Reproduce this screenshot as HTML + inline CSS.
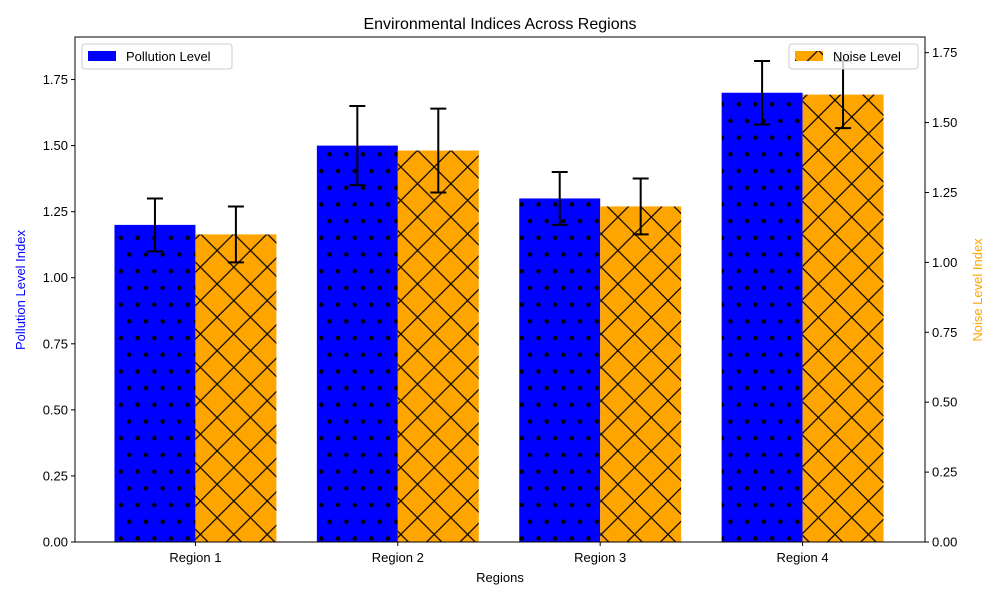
<!DOCTYPE html>
<html><head><meta charset="utf-8"><style>
body{margin:0;background:#fff}
svg{font-family:"Liberation Sans","DejaVu Sans",sans-serif;display:block}
</style></head><body>
<svg id="chart" width="1000" height="600" viewBox="0 0 1000 600">
<defs>
<pattern id="dots" patternUnits="userSpaceOnUse" width="16.7" height="33.4" x="0" y="0">
<rect width="16.7" height="33.4" fill="blue"/>
<circle cx="4" cy="4" r="2.2" fill="#000"/>
<circle cx="12.3" cy="20.7" r="2.2" fill="#000"/>
</pattern>
<pattern id="cross" patternUnits="userSpaceOnUse" width="33.4" height="33.4">
<rect width="33.4" height="33.4" fill="orange"/>
<path d="M0 0L33.4 33.4M33.4 0L0 33.4" stroke="#000" stroke-width="1.2"/>
</pattern>
</defs>
<text x="500" y="29" text-anchor="middle" font-size="16">Environmental Indices Across Regions</text>
<g id="bars"></g>
<g id="axes"></g>
</svg>
<script>
const categories=["Region 1","Region 2","Region 3","Region 4"];
const pollution=[1.2,1.5,1.3,1.7];
const pollutionErr=[0.1,0.15,0.1,0.12];
const noise=[1.1,1.4,1.2,1.6];
const noiseErr=[0.1,0.15,0.1,0.12];
const leftTicks=[0,0.25,0.5,0.75,1.0,1.25,1.5,1.75];
const rightTicks=[0,0.25,0.5,0.75,1.0,1.25,1.5,1.75];

const L=75,R=925,T=37,B=542;
const NS="http://www.w3.org/2000/svg";
const svg=document.getElementById('chart');
const gb=document.getElementById('bars'), ga=document.getElementById('axes');
function mk(tag,attrs,parent){const e=document.createElementNS(NS,tag);for(const k in attrs)e.setAttribute(k,attrs[k]);(parent||svg).appendChild(e);return e;}
const lMax=Math.max(...pollution.map((v,i)=>v+pollutionErr[i]))*1.05;
const rMax=Math.max(...noise.map((v,i)=>v+noiseErr[i]))*1.05;
const yL=v=>B-v/lMax*(B-T);
const yR=v=>B-v/rMax*(B-T);
const n=categories.length;
const xS=i=>L-1+(i+0.6)/(n-1+1.2)*(R-L);
const bw=0.4*(R-L)/(n-1+1.2);

function errBar(x,y1,y2,name){
  const g=mk('g',{},gb);
  
  
  mk('line',{x1:x,x2:x,y1:y1,y2:y2,stroke:'#000','stroke-width':2},g);
  mk('line',{x1:x-8,x2:x+8,y1:y1,y2:y1,stroke:'#000','stroke-width':2},g);
  mk('line',{x1:x-8,x2:x+8,y1:y2,y2:y2,stroke:'#000','stroke-width':2},g);
}
categories.forEach((c,i)=>{
  const cx=xS(i);
  const r1=mk('rect',{x:cx-bw,y:yL(pollution[i]),width:bw,height:B-yL(pollution[i]),fill:'url(#dots)'},gb);
  
  
  const r2=mk('rect',{x:cx,y:yR(noise[i]),width:bw,height:B-yR(noise[i]),fill:'url(#cross)'},gb);
  
  
  errBar(cx-bw/2,yL(pollution[i]+pollutionErr[i]),yL(pollution[i]-pollutionErr[i]),'pollution-error-'+(i+1));
  errBar(cx+bw/2,yR(noise[i]+noiseErr[i]),yR(noise[i]-noiseErr[i]),'noise-error-'+(i+1));
  mk('line',{x1:cx,x2:cx,y1:B,y2:B+4,stroke:'#000'},ga);
  const t=mk('text',{x:cx,y:B+20,'text-anchor':'middle','font-size':13},ga);
  t.textContent=c;
  
  
});
leftTicks.forEach(v=>{
  const y=yL(v);
  mk('line',{x1:L-4,x2:L,y1:y,y2:y,stroke:'#000'},ga);
  const t=mk('text',{x:L-7,y:y+4.5,'text-anchor':'end','font-size':13},ga);
  t.textContent=v.toFixed(2);
  
  
});
rightTicks.forEach(v=>{
  const y=yR(v);
  mk('line',{x1:R,x2:R+4,y1:y,y2:y,stroke:'#000'},ga);
  const t=mk('text',{x:R+7,y:y+4.5,'font-size':13},ga);
  t.textContent=v.toFixed(2);
  
  
});
const frame=mk('rect',{x:L,y:T,width:R-L,height:B-T,fill:'none',stroke:'#000','stroke-width':1},ga);


</script>
<svg style="position:absolute;left:0;top:0" width="1000" height="600">
<text x="500" y="582" text-anchor="middle" font-size="13">Regions</text>
<text transform="translate(25,290) rotate(-90)" text-anchor="middle" font-size="13" fill="blue">Pollution Level Index</text>
<text transform="translate(982,290) rotate(-90)" text-anchor="middle" font-size="13" fill="orange">Noise Level Index</text>
<g>
<rect x="82" y="44" width="150" height="25" rx="3" fill="#fff" fill-opacity="0.8" stroke="#ccc"/>
<rect x="88" y="51" width="28" height="10" fill="blue"/>
<text x="126" y="61" font-size="13">Pollution Level</text>
</g>
<g>
<rect x="789" y="44" width="129" height="25" rx="3" fill="#fff" fill-opacity="0.8" stroke="#ccc"/>
<rect x="795" y="51" width="28" height="10" fill="url(#cross)"/>
<text x="833" y="61" font-size="13">Noise Level</text>
</g>
</svg>
</body></html>
